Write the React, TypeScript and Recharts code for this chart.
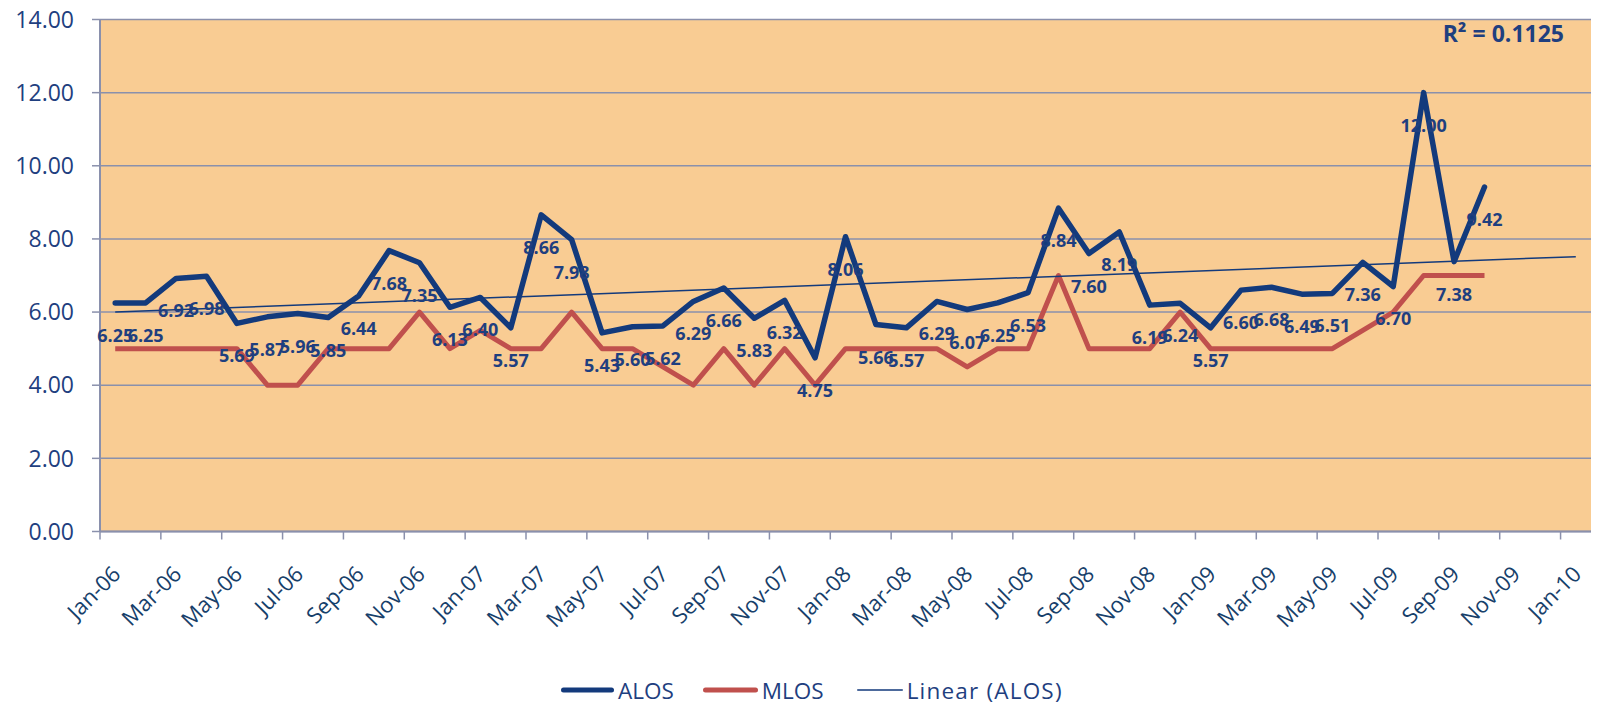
import React from "react"
import {
  LineChart,
  Line,
  XAxis,
  YAxis,
  CartesianGrid,
  Legend,
  LabelList,
} from "recharts"

// month-end values, Jan-06 .. Oct-09
const alos = [
  6.25, 6.25, 6.92, 6.98, 5.69, 5.87, 5.96, 5.85, 6.44, 7.68, 7.35, 6.13,
  6.4, 5.57, 8.66, 7.98, 5.43, 5.6, 5.62, 6.29, 6.66, 5.83, 6.32, 4.75,
  8.06, 5.66, 5.57, 6.29, 6.07, 6.25, 6.53, 8.84, 7.6, 8.19, 6.19, 6.24,
  5.57, 6.6, 6.68, 6.49, 6.51, 7.36, 6.7, 12.0, 7.38, 9.42,
]
const mlos = [
  5, 5, 5, 5, 5, 4, 4, 5, 5, 5, 6, 5,
  5.5, 5, 5, 6, 5, 5, 4.5, 4, 5, 4, 5, 4,
  5, 5, 5, 5, 4.5, 5, 5, 7, 5, 5, 5, 6,
  5, 5, 5, 5, 5, 5.5, 6, 7, 7, 7,
]
const xLabels = [
  "Jan-06", "Mar-06", "May-06", "Jul-06", "Sep-06", "Nov-06",
  "Jan-07", "Mar-07", "May-07", "Jul-07", "Sep-07", "Nov-07",
  "Jan-08", "Mar-08", "May-08", "Jul-08", "Sep-08", "Nov-08",
  "Jan-09", "Mar-09", "May-09", "Jul-09", "Sep-09", "Nov-09",
  "Jan-10",
]
const yTicks = [0, 2, 4, 6, 8, 10, 12, 14]
const forecastPeriods = 3
const rSquared = "0.1125"

const NAVY = "#133A7C"
const LABEL = "#1F3F7F"
const RED = "#C0504D"
const AXIS = "#8A90AC"
const FONT = "'Open Sans', sans-serif"

// points sit mid-month on the date axis
const data = alos.map((v, i) => ({ m: i + 0.5, alos: v, mlos: mlos[i] }))

// least squares trend of ALOS, carried forward like Excel's forecast
const n = alos.length
const meanX = (n - 1) / 2
const meanY = alos.reduce((a, b) => a + b, 0) / n
const slope =
  alos.reduce((s, v, i) => s + (i - meanX) * (v - meanY), 0) /
  alos.reduce((s, _v, i) => s + (i - meanX) ** 2, 0)
const trend = [0, n - 1 + forecastPeriods].map((i) => ({
  m: i + 0.5,
  trend: meanY + slope * (i - meanX),
}))

const XTick = ({ x, y, payload }: any) => {
  const ax = x + 22
  const ay = y + 36
  return (
    <text
      x={ax}
      y={ay}
      textAnchor="end"
      transform={`rotate(-45 ${ax} ${ay})`}
      fontSize={22}
      fontFamily={FONT}
      fill="#17406A"
    >
      {xLabels[Math.round(payload.value / 2)]}
    </text>
  )
}

const AlosLabel = ({ x, y, value }: any) => (
  <text
    x={x}
    y={y + 39}
    textAnchor="middle"
    fontSize={18}
    fontWeight={700}
    fontFamily={FONT}
    fill={LABEL}
  >
    {Number(value).toFixed(2)}
  </text>
)

const legendItems = [
  { name: "ALOS", color: NAVY, width: 5, len: 55, gap: 28, spacing: 0 },
  { name: "MLOS", color: RED, width: 5, len: 57, gap: 32, spacing: 0 },
  { name: "Linear (ALOS)", color: NAVY, width: 1.5, len: 48, gap: 0, spacing: 1.2 },
]

const LegendBox = () => (
  <div
    style={{
      display: "flex",
      alignItems: "center",
      height: 30,
      fontFamily: FONT,
      fontSize: 22.5,
      color: LABEL,
    }}
  >
    {legendItems.map((it) => (
      <div key={it.name} style={{ display: "flex", alignItems: "center", marginRight: it.gap }}>
        <svg width={it.len} height={10} style={{ marginRight: 3 }}>
          <line
            x1={it.width / 2 + 1}
            x2={it.len - it.width / 2 - 1}
            y1={5}
            y2={5}
            stroke={it.color}
            strokeWidth={it.width}
            strokeLinecap="round"
          />
        </svg>
        <span style={{ letterSpacing: it.spacing }}>{it.name}</span>
      </div>
    ))}
  </div>
)

export default function App() {
  return (
    <div style={{ position: "absolute", left: 0, top: 0, width: 1598, height: 705, background: "#fff" }}>
      <LineChart
        width={1598}
        height={705}
        data={data}
        margin={{ top: 19.5, right: 7, left: 0, bottom: 0 }}
      >
        <CartesianGrid
          vertical={false}
          stroke={AXIS}
          strokeWidth={1.5}
          fill="#F9CC93"
          fillOpacity={1}
        />
        <XAxis
          dataKey="m"
          type="number"
          domain={[0, 49]}
          ticks={xLabels.map((_l, i) => i * 2)}
          interval={0}
          height={143.5}
          tickSize={8}
          tickMargin={0}
          tick={<XTick />}
          axisLine={{ stroke: AXIS, strokeWidth: 2 }}
          tickLine={{ stroke: AXIS, strokeWidth: 1.5 }}
        />
        <YAxis
          domain={[0, 14]}
          ticks={yTicks}
          interval={0}
          width={100}
          tickSize={8}
          tickMargin={18}
          tickFormatter={(v: number) => v.toFixed(2)}
          tick={{ fontSize: 23, fill: LABEL, fontFamily: FONT }}
          axisLine={{ stroke: AXIS, strokeWidth: 2 }}
          tickLine={{ stroke: AXIS, strokeWidth: 1.5 }}
        />
        <Legend
          verticalAlign="bottom"
          content={<LegendBox />}
          wrapperStyle={{ position: "absolute", left: 560, top: 675, width: 600, bottom: "auto" }}
        />
        <Line
          name="MLOS"
          dataKey="mlos"
          type="linear"
          stroke={RED}
          strokeWidth={5}
          strokeLinejoin="round"
          dot={false}
          isAnimationActive={false}
        />
        <Line
          name="ALOS"
          dataKey="alos"
          type="linear"
          stroke={NAVY}
          strokeWidth={5.5}
          strokeLinejoin="round"
          strokeLinecap="round"
          dot={false}
          isAnimationActive={false}
        >
          <LabelList dataKey="alos" content={<AlosLabel />} />
        </Line>
        <Line
          name="Linear (ALOS)"
          data={trend}
          dataKey="trend"
          type="linear"
          stroke={NAVY}
          strokeWidth={1.5}
          dot={false}
          isAnimationActive={false}
        />
      </LineChart>
      <div
        style={{
          position: "absolute",
          right: 34,
          top: 22,
          fontFamily: FONT,
          fontSize: 23,
          fontWeight: 700,
          lineHeight: 1,
          color: LABEL,
          whiteSpace: "nowrap",
        }}
      >
        R² = {rSquared}
      </div>
    </div>
  )
}
